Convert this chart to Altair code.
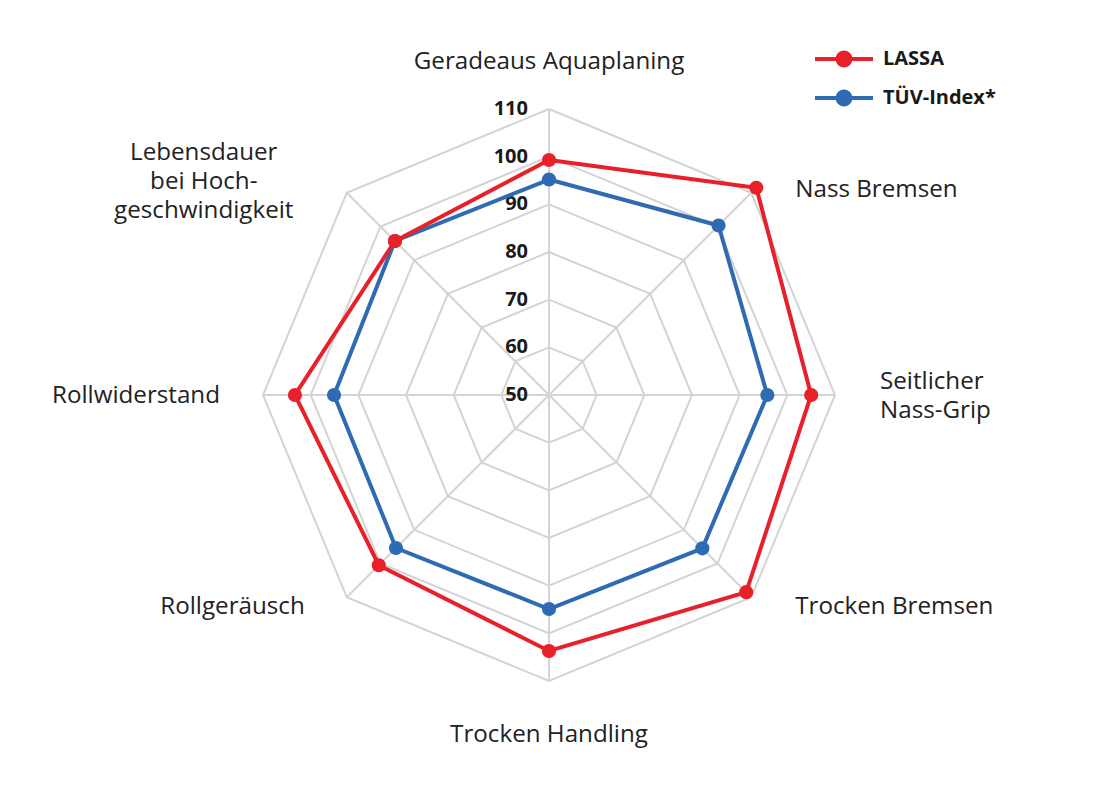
import math
import altair as alt
import pandas as pd

# ---- data ----
categories = ["Geradeaus Aquaplaning", "Nass Bremsen", "Seitlicher Nass-Grip",
              "Trocken Bremsen", "Trocken Handling", "Rollgeräusch",
              "Rollwiderstand", "Lebensdauer bei Hochgeschwindigkeit"]
label_lines = [["Geradeaus Aquaplaning"], ["Nass Bremsen"], ["Seitlicher", "Nass-Grip"],
               ["Trocken Bremsen"], ["Trocken Handling"], ["Rollgeräusch"],
               ["Rollwiderstand"], ["Lebensdauer", "bei Hoch-", "geschwindigkeit"]]
lassa = [99.3, 111.5, 105.0, 108.5, 103.7, 100.5, 103.3, 95.7]
tuv = [95.2, 100.3, 95.8, 95.5, 94.9, 95.4, 95.1, 95.7]
ticks = [50, 60, 70, 80, 90, 100, 110]
series = ["LASSA", "TÜV-Index*"]
colors = ["#e8202a", "#2e6bb2"]

# ---- layout / style ----
W, H = 1084, 778
CX, CY = 541, 387            # centre of the web inside the plot area (px)
RMIN, RMAX = ticks[0], ticks[-1]
K = 286 / (RMAX - RMIN)      # px per value unit
xdom = [(0 - CX) / K, (W - CX) / K]
ydom = [-(H - CY) / K, CY / K]
FONT = "Open Sans"
GRID = "#d4d4d4"
LH = 29
n = len(categories)


def polar(v, i):
    r = v - RMIN
    t = 2 * math.pi * i / n
    return r * math.sin(t), r * math.cos(t)


X = lambda f: alt.X(f, type="quantitative", scale=alt.Scale(domain=xdom, nice=False, zero=False), axis=None)
Y = lambda f: alt.Y(f, type="quantitative", scale=alt.Scale(domain=ydom, nice=False, zero=False), axis=None)

# grid octagons
grid_rows = []
for lv in ticks[1:]:
    for j in range(n + 1):
        x, y = polar(lv, j % n)
        grid_rows.append({"level": lv, "idx": j, "x": x, "y": y})
grid = alt.Chart(pd.DataFrame(grid_rows)).mark_line(color=GRID, strokeWidth=2).encode(
    x=X("x"), y=Y("y"), detail="level:N", order="idx:Q")

# spokes
spoke_rows = []
for i in range(n):
    x, y = polar(RMAX, i)
    spoke_rows.append({"x0": 0.0, "y0": 0.0, "x1": x, "y1": y})
spokes = alt.Chart(pd.DataFrame(spoke_rows)).mark_rule(color=GRID, strokeWidth=2).encode(
    x=X("x0"), y=Y("y0"), x2="x1:Q", y2="y1:Q")

# tick labels
tick_df = pd.DataFrame({"v": ticks, "x": [0.0] * len(ticks), "y": [t - RMIN for t in ticks]})
tick_text = alt.Chart(tick_df).mark_text(
    align="right", baseline="middle", dx=-21, font=FONT, fontWeight="bold",
    fontSize=20, color="#1a1a1a").encode(x=X("x"), y=Y("y"), text="v:Q")

# category labels: anchored at the outer vertex plus a pixel gap
gap = [(0, -47, "center"), (44, -3, "left"), (45, 1, "left"), (44, 10, "left"),
       (0, 54, "center"), (-42, 10, "right"), (-43, 1, "right"), (-143, -11, "center")]
lab_rows = []
for i, (lines, (gx, gy, al)) in enumerate(zip(label_lines, gap)):
    x, y = polar(RMAX, i)
    gy2 = gy - (len(lines) - 1) * LH / 2
    lab_rows.append({"lab": lines, "x": x + gx / K, "y": y - gy2 / K, "al": al})
lab_df = pd.DataFrame(lab_rows)
labels = []
for al in ["left", "center", "right"]:
    labels.append(alt.Chart(lab_df[lab_df.al == al]).mark_text(
        align=al, baseline="middle", font=FONT, fontSize=24.2, lineHeight=LH,
        color="#222222").encode(x=X("x"), y=Y("y"), text="lab"))

# series
rows = []
for s, vals in zip(series, [lassa, tuv]):
    for j in range(n + 1):
        x, y = polar(vals[j % n], j % n)
        rows.append({"series": s, "idx": j, "cat": categories[j % n], "value": vals[j % n], "x": x, "y": y})
sdf = pd.DataFrame(rows)

PATH = ("M-1,-0.07H1V0.07H-1Z "
        "M0.29,0A0.29,0.29,0,1,1,-0.29,0A0.29,0.29,0,1,1,0.29,0Z")
color_leg = alt.Color("series:N", scale=alt.Scale(domain=series, range=colors),
                      legend=alt.Legend(title=None, orient="none", legendX=807, legendY=22,
                                        symbolType=PATH, symbolSize=3364, symbolStrokeWidth=0,
                                        symbolOpacity=1, labelFont=FONT, labelFontWeight="bold",
                                        labelFontSize=20, labelColor="#1a1a1a", labelOffset=10,
                                        rowPadding=0, padding=0))

layers = [grid, spokes] + labels + [tick_text]
for s in ["TÜV-Index*", "LASSA"]:
    d = sdf[sdf.series == s]
    c = colors[series.index(s)]
    layers.append(alt.Chart(d).mark_line(strokeWidth=4, color=c).encode(
        x=X("x"), y=Y("y"), order="idx:Q"))
    layers.append(alt.Chart(d[d.idx < n]).mark_circle(size=200, opacity=1).encode(
        x=X("x"), y=Y("y"), color=color_leg))

chart = alt.layer(*layers).properties(
    width=W, height=H, autosize=alt.AutoSizeParams(type="none"), padding=0
).configure_view(stroke=None)

chart.save("out.html", embed_options={"renderer": "svg", "actions": False})
